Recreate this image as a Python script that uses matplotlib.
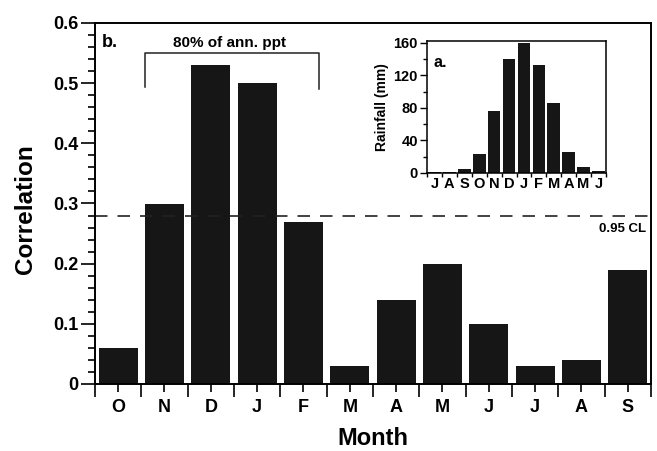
import numpy as np
import matplotlib
matplotlib.use("Agg")
import matplotlib.pyplot as plt
from matplotlib.ticker import MultipleLocator

plt.rcParams['font.family'] = ['Liberation Sans', 'DejaVu Sans']
plt.rcParams['font.weight'] = 'bold'

months = ['O', 'N', 'D', 'J', 'F', 'M', 'A', 'M', 'J', 'J', 'A', 'S']
correlation = [0.06, 0.30, 0.53, 0.50, 0.27, 0.03, 0.14, 0.20, 0.10, 0.03, 0.04, 0.19]
cl95 = 0.28

inset_months = ['J', 'A', 'S', 'O', 'N', 'D', 'J', 'F', 'M', 'A', 'M', 'J']
rainfall = [1, 1.5, 5, 23, 76, 140, 159, 132, 86, 26, 7, 3]

bar_color = '#161616'

fig = plt.figure(figsize=(6.57, 4.51), dpi=100)
ax = fig.add_axes([95/657, 1 - 384/451, (651 - 95)/657, (384 - 23)/451])

x = np.arange(len(months))
ax.bar(x, correlation, width=0.84, color=bar_color, edgecolor='none')
ax.set_xlim(-0.5, len(months) - 0.5)
ax.set_ylim(0, 0.6)

ax.set_xticks(np.arange(-0.5, len(months), 1))
ax.set_xticklabels([])
ax.set_xticks(x, minor=True)
ax.set_xticklabels(months, minor=True, fontsize=13, fontweight='bold')
ax.tick_params(axis='x', which='major', direction='out', length=9, width=1.2)
ax.tick_params(axis='x', which='minor', direction='out', length=6, width=1.2, pad=5)

ax.yaxis.set_major_locator(MultipleLocator(0.1))
ax.yaxis.set_minor_locator(MultipleLocator(0.02))
ax.set_yticks(np.arange(0, 0.61, 0.1))
ax.set_yticklabels(['0', '0.1', '0.2', '0.3', '0.4', '0.5', '0.6'], fontsize=13, fontweight='bold')
ax.tick_params(axis='y', which='major', direction='out', length=10, width=1.2, pad=2)
ax.tick_params(axis='y', which='minor', direction='out', length=5, width=1.2)

for s in ax.spines.values():
    s.set_linewidth(1.4)

ax.set_xlabel('Month', fontsize=17, fontweight='bold', labelpad=8)
ax.set_ylabel('Correlation', fontsize=17.5, fontweight='bold')
ax.yaxis.set_label_coords(-0.104, 0.485)

ax.axhline(cl95, color='#222222', lw=1.2, linestyle=(0, (7.5, 6)))
ax.text(11.4, 0.258, '0.95 CL', ha='right', va='center', fontsize=9.5, fontweight='bold')

# bracket
bl, br = 0.58, 4.33
ax.plot([bl, bl, br, br], [0.494, 0.550, 0.550, 0.490], color='#222222', lw=1.1)
ax.text(2.41, 0.567, '80% of ann. ppt', ha='center', va='center', fontsize=11, fontweight='bold')
ax.text(0.012, 0.947, 'b.', transform=ax.transAxes, ha='left', va='center', fontsize=13, fontweight='bold')

# inset
ins = fig.add_axes([427/657, 1 - 173/451, (606 - 427)/657, (173 - 41)/451])
xi = np.arange(len(inset_months))
ins.bar(xi, rainfall, width=0.85, color=bar_color, edgecolor='none')
ins.set_xlim(-0.5, len(inset_months) - 0.5)
ins.set_ylim(0, 162)
ins.set_xticks(np.arange(-0.5, len(inset_months), 1))
ins.set_xticklabels([])
ins.set_xticks(xi, minor=True)
ins.set_xticklabels(inset_months, minor=True, fontsize=10.5, fontweight='bold')
ins.tick_params(axis='x', which='major', direction='out', length=3, width=1.0)
ins.tick_params(axis='x', which='minor', length=0, pad=3)
ins.set_yticks([0, 40, 80, 120, 160])
ins.set_yticklabels(['0', '40', '80', '120', '160'], fontsize=10.5, fontweight='bold')
ins.yaxis.set_minor_locator(MultipleLocator(20))
ins.tick_params(axis='y', which='major', direction='out', length=5, width=1.0, pad=1.5)
ins.tick_params(axis='y', which='minor', direction='out', length=3, width=1.0)
for s in ins.spines.values():
    s.set_linewidth(1.1)
ins.set_ylabel('Rainfall (mm)', fontsize=10, fontweight='bold', labelpad=3)
ins.text(0.035, 0.84, 'a.', transform=ins.transAxes, ha='left', va='center', fontsize=11.5, fontweight='bold')

fig.savefig('out.png', dpi=100)
